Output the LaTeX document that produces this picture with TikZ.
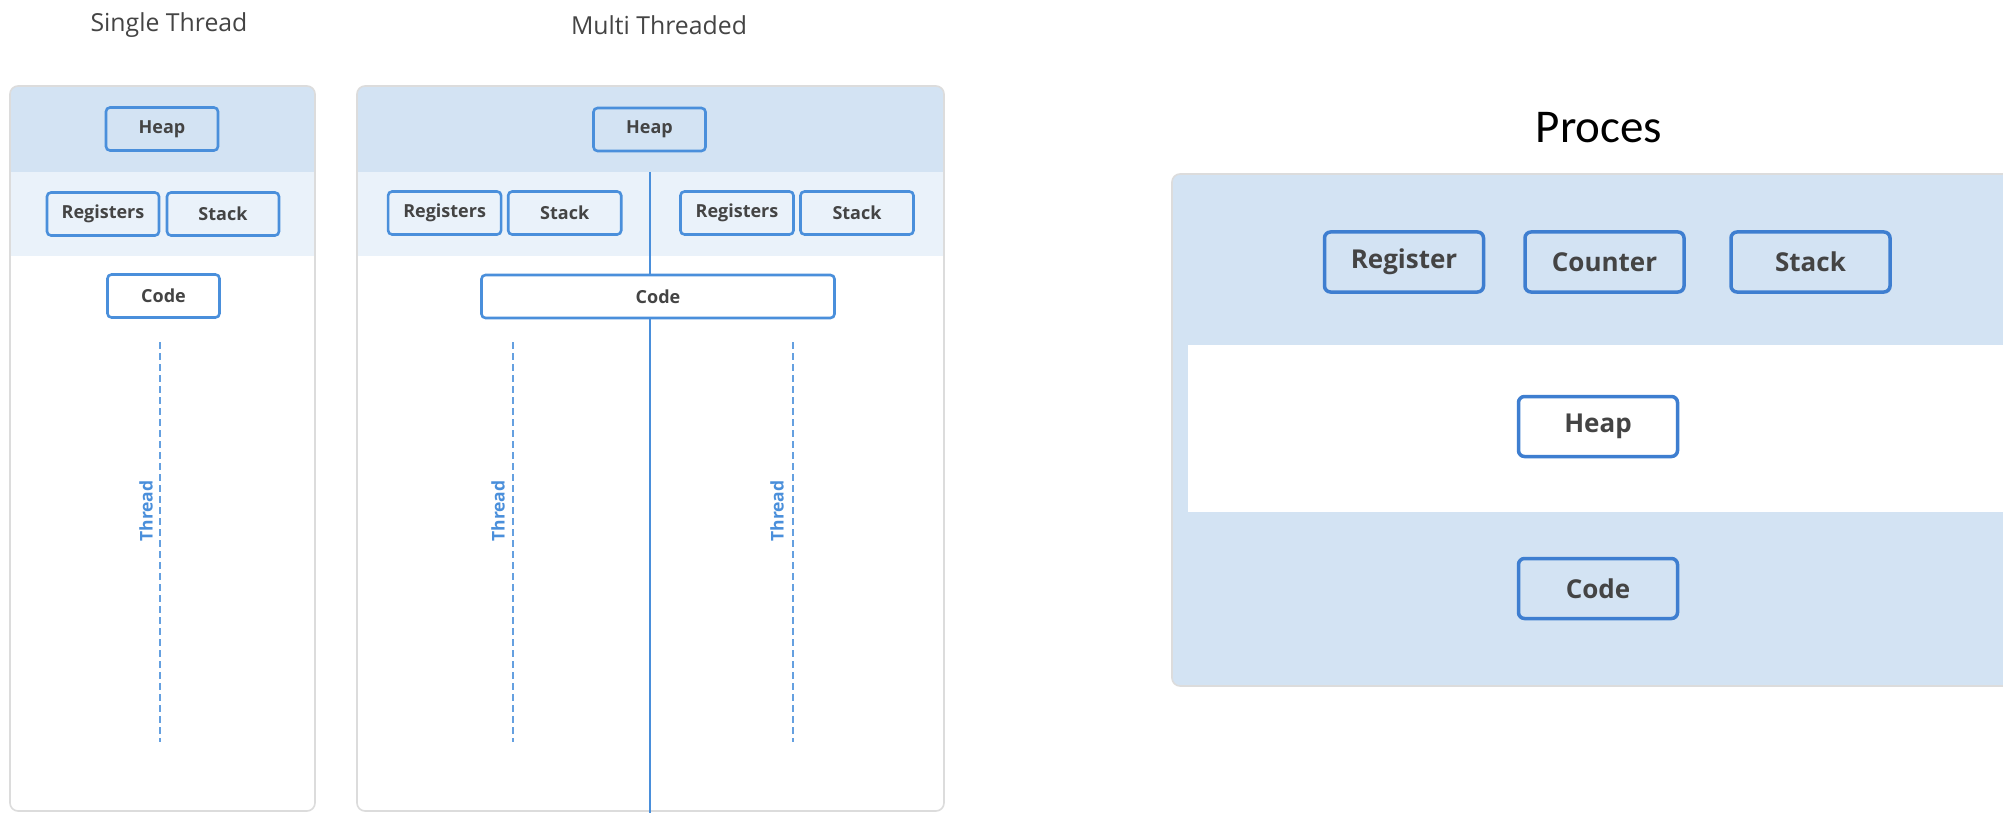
\documentclass[tikz,border=0pt]{standalone}
\usepackage{fontspec}
\setmainfont{Open Sans}
\newfontfamily\semi{Open Sans}
\newfontfamily\calib{Carlito}
\definecolor{band}{HTML}{D3E3F3}
\definecolor{lband}{HTML}{EAF2FA}
\definecolor{edge}{HTML}{4A8FDB}
\definecolor{dedge}{HTML}{3E7ED0}
\definecolor{ink}{HTML}{444444}
\definecolor{frame}{HTML}{DCDCDC}
\tikzset{
  box/.style={draw=edge, line width=2.6pt, rounded corners=4pt, minimum width=112pt,
    minimum height=43pt, inner sep=0pt, font=\semi\bfseries\fontsize{18}{18}\selectfont, text=ink},
  bigbox/.style={draw=dedge, line width=3.5pt, rounded corners=6pt, minimum width=159pt,
    minimum height=60pt, inner sep=0pt, font=\semi\bfseries\fontsize{26}{26}\selectfont, text=ink},
  threadline/.style={draw=edge!85, line width=2.4pt, dash pattern=on 7pt off 4pt},
  threadlabel/.style={rotate=90, text=edge, font=\semi\bfseries\fontsize{17.5}{17.5}\selectfont},
  title/.style={text=ink, font=\fontsize{24.8}{24.8}\selectfont},
  panel/.style={draw=frame, line width=1.6pt, rounded corners=8pt}
}
\begin{document}
\begin{tikzpicture}[x=1pt,y=-1pt]
\useasboundingbox (0,0) rectangle (2003,813);
\clip (0,0) rectangle (2003,813);
\fill[white] (0,0) rectangle (2003,813);

% ---------- single thread ----------
\node[title] (tSingle) at (169,25) {Single Thread};
\begin{scope}
  \clip[rounded corners=8pt] (10,86) rectangle (315,811);
  \fill[band] (10,86) rectangle (315,172);
  \fill[lband] (10,172) rectangle (315,256);
  \fill[white] (10,256) rectangle (315,811);
\end{scope}
\draw[panel] (10,86) rectangle (315,811);

\node[box, fill=band] (sHeap) at (162,129) {Heap};
\node[box, fill=lband] (sReg) at (103,214) {Registers};
\node[box, fill=lband] (sStack) at (223,214) {Stack};
\node[box, fill=white] (sCode) at (163.5,296) {Code};
\coordinate (sT1) at (160,342);
\coordinate (sT2) at (160,742);
\draw[threadline] (sT1) -- (sT2);
\node[threadlabel] (sThread) at (146,511) {Thread};

% ---------- multi threaded ----------
\node[title] (tMulti) at (659,25) {Multi Threaded};
\begin{scope}
  \clip[rounded corners=8pt] (357,86) rectangle (944,811);
  \fill[band] (357,86) rectangle (944,172);
  \fill[lband] (357,172) rectangle (944,256);
  \fill[white] (357,256) rectangle (944,811);
\end{scope}
\draw[panel] (357,86) rectangle (944,811);

\coordinate (mSplitTop) at (650,172);
\coordinate (mSplitBot) at (650,813);
\draw[edge, line width=2.4pt] (mSplitTop) -- (mSplitBot);

\node[box, fill=band] (mHeap) at (649.5,129.5) {Heap};
\node[box, fill=lband, minimum width=113pt] (mRegA) at (444.6,213) {Registers};
\node[box, fill=lband, minimum width=113pt] (mStackA) at (564.7,213) {Stack};
\node[box, fill=lband, minimum width=113pt] (mRegB) at (737,213) {Registers};
\node[box, fill=lband, minimum width=113pt] (mStackB) at (857,213) {Stack};
\node[box, fill=white, minimum width=353pt] (mCode) at (658,296.5) {Code};

\coordinate (mT1a) at (512.8,342);
\coordinate (mT1b) at (512.8,742);
\coordinate (mT2a) at (792.7,342);
\coordinate (mT2b) at (792.7,742);
\draw[threadline] (mT1a) -- (mT1b);
\draw[threadline] (mT2a) -- (mT2b);
\node[threadlabel] (mThreadA) at (498,511) {Thread};
\node[threadlabel] (mThreadB) at (777,511) {Thread};

% ---------- process ----------
\node[font=\calib\fontsize{47}{47}\selectfont, text=black] (tProc) at (1599,128) {Proces};
\draw[fill=band, draw=frame, line width=1.6pt, rounded corners=8pt] (1172,174) rectangle (2040,686);
\fill[white] (1188,345) rectangle (2040,512);

\node[bigbox, fill=band] (pReg) at (1404,262) {Register};
\node[bigbox, fill=band] (pCount) at (1604.5,262) {Counter};
\node[bigbox, fill=band] (pStack) at (1810.5,262) {Stack};
\node[bigbox, fill=white] (pHeap) at (1598,426.5) {Heap};
\node[bigbox, fill=band] (pCode) at (1598,588.5) {Code};
\end{tikzpicture}
\end{document}
